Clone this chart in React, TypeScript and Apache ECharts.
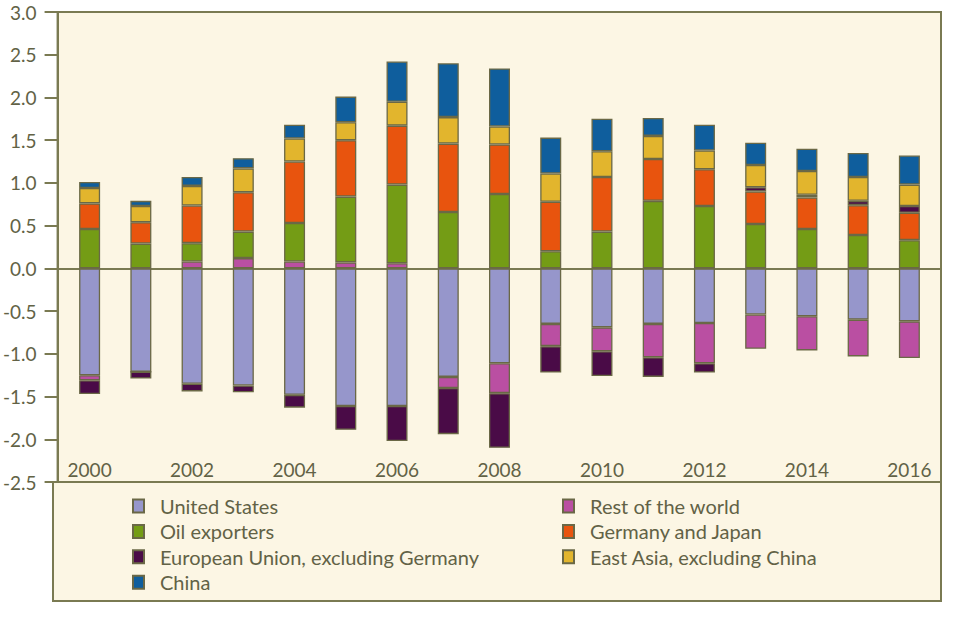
import React, { useEffect, useRef } from 'react';
import * as echarts from 'echarts';

const years = ['2000', '2001', '2002', '2003', '2004', '2005', '2006', '2007', '2008', '2009', '2010', '2011', '2012', '2013', '2014', '2015', '2016'];

const unitedStates = [-1.25, -1.21, -1.35, -1.37, -1.48, -1.61, -1.61, -1.27, -1.11, -0.65, -0.69, -0.65, -0.64, -0.54, -0.56, -0.60, -0.62];
const restOfWorld = [-0.06, 0, 0.08, 0.12, 0.08, 0.07, 0.06, -0.13, -0.35, -0.26, -0.28, -0.39, -0.47, -0.40, -0.40, -0.43, -0.43];
const oilExporters = [0.46, 0.29, 0.215, 0.31, 0.45, 0.77, 0.92, 0.66, 0.87, 0.20, 0.43, 0.79, 0.73, 0.52, 0.46, 0.39, 0.33];
const germanyJapan = [0.30, 0.25, 0.44, 0.46, 0.72, 0.66, 0.69, 0.80, 0.58, 0.58, 0.64, 0.49, 0.43, 0.38, 0.37, 0.35, 0.32];
const euExGermany = [-0.16, -0.08, -0.09, -0.08, -0.15, -0.28, -0.41, -0.54, -0.64, -0.31, -0.29, -0.23, -0.11, 0.05, 0.03, 0.05, 0.08];
const eastAsia = [0.18, 0.19, 0.23, 0.28, 0.27, 0.21, 0.28, 0.31, 0.21, 0.33, 0.30, 0.27, 0.22, 0.26, 0.28, 0.28, 0.25];
const china = [0.07, 0.06, 0.105, 0.12, 0.16, 0.30, 0.47, 0.63, 0.68, 0.42, 0.38, 0.21, 0.30, 0.26, 0.26, 0.28, 0.34];

const seriesDefs = [
  { name: 'United States', data: unitedStates, color: '#9696cb' },
  { name: 'Rest of the world', data: restOfWorld, color: '#ba4fa2' },
  { name: 'Oil exporters', data: oilExporters, color: '#749c15' },
  { name: 'Germany and Japan', data: germanyJapan, color: '#e8540e' },
  { name: 'European Union, excluding Germany', data: euExGermany, color: '#4a0b47' },
  { name: 'East Asia, excluding China', data: eastAsia, color: '#e2b52d' },
  { name: 'China', data: china, color: '#0f5e9d' },
];

const legendLeft = ['United States', 'Oil exporters', 'European Union, excluding Germany', 'China'];
const legendRight = ['Rest of the world', 'Germany and Japan', 'East Asia, excluding China'];

const OLIVE = '#7a7a52';
const CREAM = '#fcf6e4';
const TEXT = '#626246';
const FONT = 'Lato';

export default function App() {
  const ref = useRef<HTMLDivElement>(null);
  useEffect(() => {
    document.body.style.margin = '0';
    const chart = echarts.init(ref.current!, null, { renderer: 'svg' });
    const legendCommon = {
      orient: 'vertical' as const,
      padding: 0,
      itemWidth: 11,
      itemHeight: 13,
      itemGap: 5.4,
      icon: 'rect',
      selectedMode: false,
      textStyle: { color: TEXT, fontFamily: FONT, fontSize: 20, lineHeight: 20, padding: [0, 0, 0, 11] },
    };
    chart.setOption({
      animation: false,
      backgroundColor: '#ffffff',
      graphic: [
        {
          type: 'rect',
          z: -10,
          shape: { x: 53, y: 482, width: 888, height: 119 },
          style: { fill: CREAM, stroke: OLIVE, lineWidth: 2 },
        },
      ],
      grid: [
        { left: 53, top: 12, width: 888, height: 470, show: true, backgroundColor: CREAM, borderColor: OLIVE, borderWidth: 2 },
        { left: 64, top: 12, width: 871, height: 470 },
      ],
      xAxis: [
        {
          gridIndex: 0, type: 'value', min: 0, max: 1,
          axisLine: { show: true, onZero: true, lineStyle: { color: OLIVE, width: 2 } },
          axisTick: { show: false }, axisLabel: { show: false }, splitLine: { show: false },
        },
        {
          gridIndex: 1, type: 'category', data: years, position: 'bottom',
          axisLine: { show: false }, axisTick: { show: false }, splitLine: { show: false },
          axisLabel: { inside: true, interval: 1, margin: 3, color: TEXT, fontFamily: FONT, fontSize: 19 },
        },
      ],
      yAxis: [
        {
          gridIndex: 0, type: 'value', min: -2.5, max: 3, interval: 0.5,
          axisLine: { show: true, lineStyle: { color: OLIVE, width: 2 } },
          axisTick: { show: true, length: 13, lineStyle: { color: OLIVE, width: 2 } },
          splitLine: { show: false },
          axisLabel: { margin: 21, color: TEXT, fontFamily: FONT, fontSize: 19, formatter: (v: number) => v.toFixed(1) },
        },
        { gridIndex: 1, type: 'value', min: -2.5, max: 3, show: false, splitLine: { show: false } },
      ],
      legend: [
        { ...legendCommon, data: legendLeft, left: 132, top: 496 },
        { ...legendCommon, data: legendRight, left: 562, top: 496 },
      ],
      series: seriesDefs.map((s) => ({
        name: s.name,
        type: 'bar',
        xAxisIndex: 1,
        yAxisIndex: 1,
        stack: 'total',
        barWidth: 21,
        data: s.data,
        itemStyle: { color: s.color, borderColor: '#6a6846', borderWidth: 1.3 },
      })),
    });
    return () => chart.dispose();
  }, []);
  return <div ref={ref} style={{ width: 953, height: 617 }} />;
}
